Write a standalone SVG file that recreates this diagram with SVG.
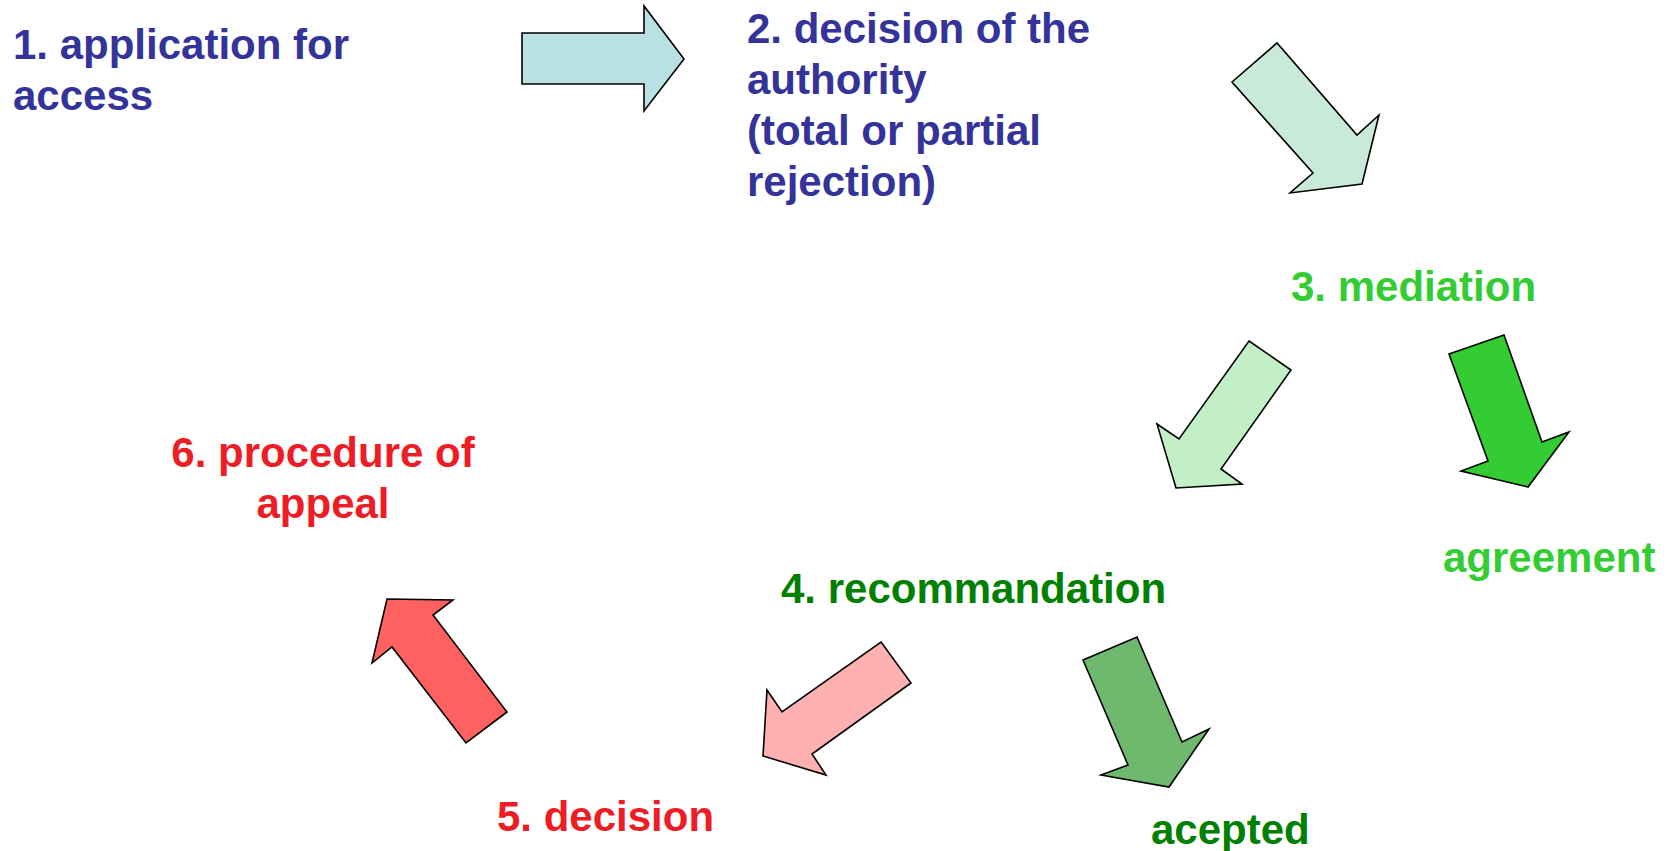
<svg xmlns="http://www.w3.org/2000/svg" width="1677" height="851" viewBox="0 0 1677 851">
<style>
text{font-family:"Liberation Sans",Arial,sans-serif;font-weight:bold;font-size:42px}
.blue{fill:#333399}
.lgreen{fill:#33cc33}
.dgreen{fill:#008000}
.red{fill:#ee1c25}
.arr{stroke:#000;stroke-width:1.6;stroke-linejoin:miter}
</style>
<rect width="1677" height="851" fill="#fff"/>
<g id="node1"><text class="blue" x="13" y="59">1. application for</text><text class="blue" x="13" y="110">access</text></g>
<g id="node2"><text class="blue" x="747" y="43">2. decision of the</text><text class="blue" x="747" y="94">authority</text><text class="blue" x="747" y="145">(total or partial</text><text class="blue" x="747" y="196">rejection)</text></g>
<g id="node3"><text class="lgreen" x="1291" y="301">3. mediation</text></g>
<g id="node-agreement"><text class="lgreen" x="1443" y="572">agreement</text></g>
<g id="node4"><text class="dgreen" x="781" y="603">4. recommandation</text></g>
<g id="node-acepted"><text class="dgreen" x="1151" y="844">acepted</text></g>
<g id="node5"><text class="red" x="497" y="831">5. decision</text></g>
<g id="node6"><text class="red" x="323" y="467" text-anchor="middle">6. procedure of</text><text class="red" x="323" y="518" text-anchor="middle">appeal</text></g>
<g id="connectors">
<polygon class="arr" fill="#b9e0e3" points="522,33 644,33 644,6 684,59 644,111 644,84 522,84"/>
<polygon class="arr" fill="#c9ead9" points="1232,82 1277,43 1357,135 1379,115 1362,184 1290,193 1313,173"/>
<polygon class="arr" fill="#c2efc6" points="1249,341 1291,370 1221,469 1242,484 1176,488 1157,424 1179,439"/>
<polygon class="arr" fill="#33cc33" points="1449,354 1504,335 1542,442 1569,432 1528,487 1461,471 1488,461"/>
<polygon class="arr" fill="#ffb0b0" points="881,642 911,683 812,754 826,775 763,756 767,690 782,712"/>
<polygon class="arr" fill="#6fb96f" points="1083,660 1137,637 1182,742 1209,729 1169,787 1101,775 1128,765"/>
<polygon class="arr" fill="#ff6060" points="387,599 453,600 433,615 507,712 466,743 392,647 372,663"/>
</g>
</svg>
